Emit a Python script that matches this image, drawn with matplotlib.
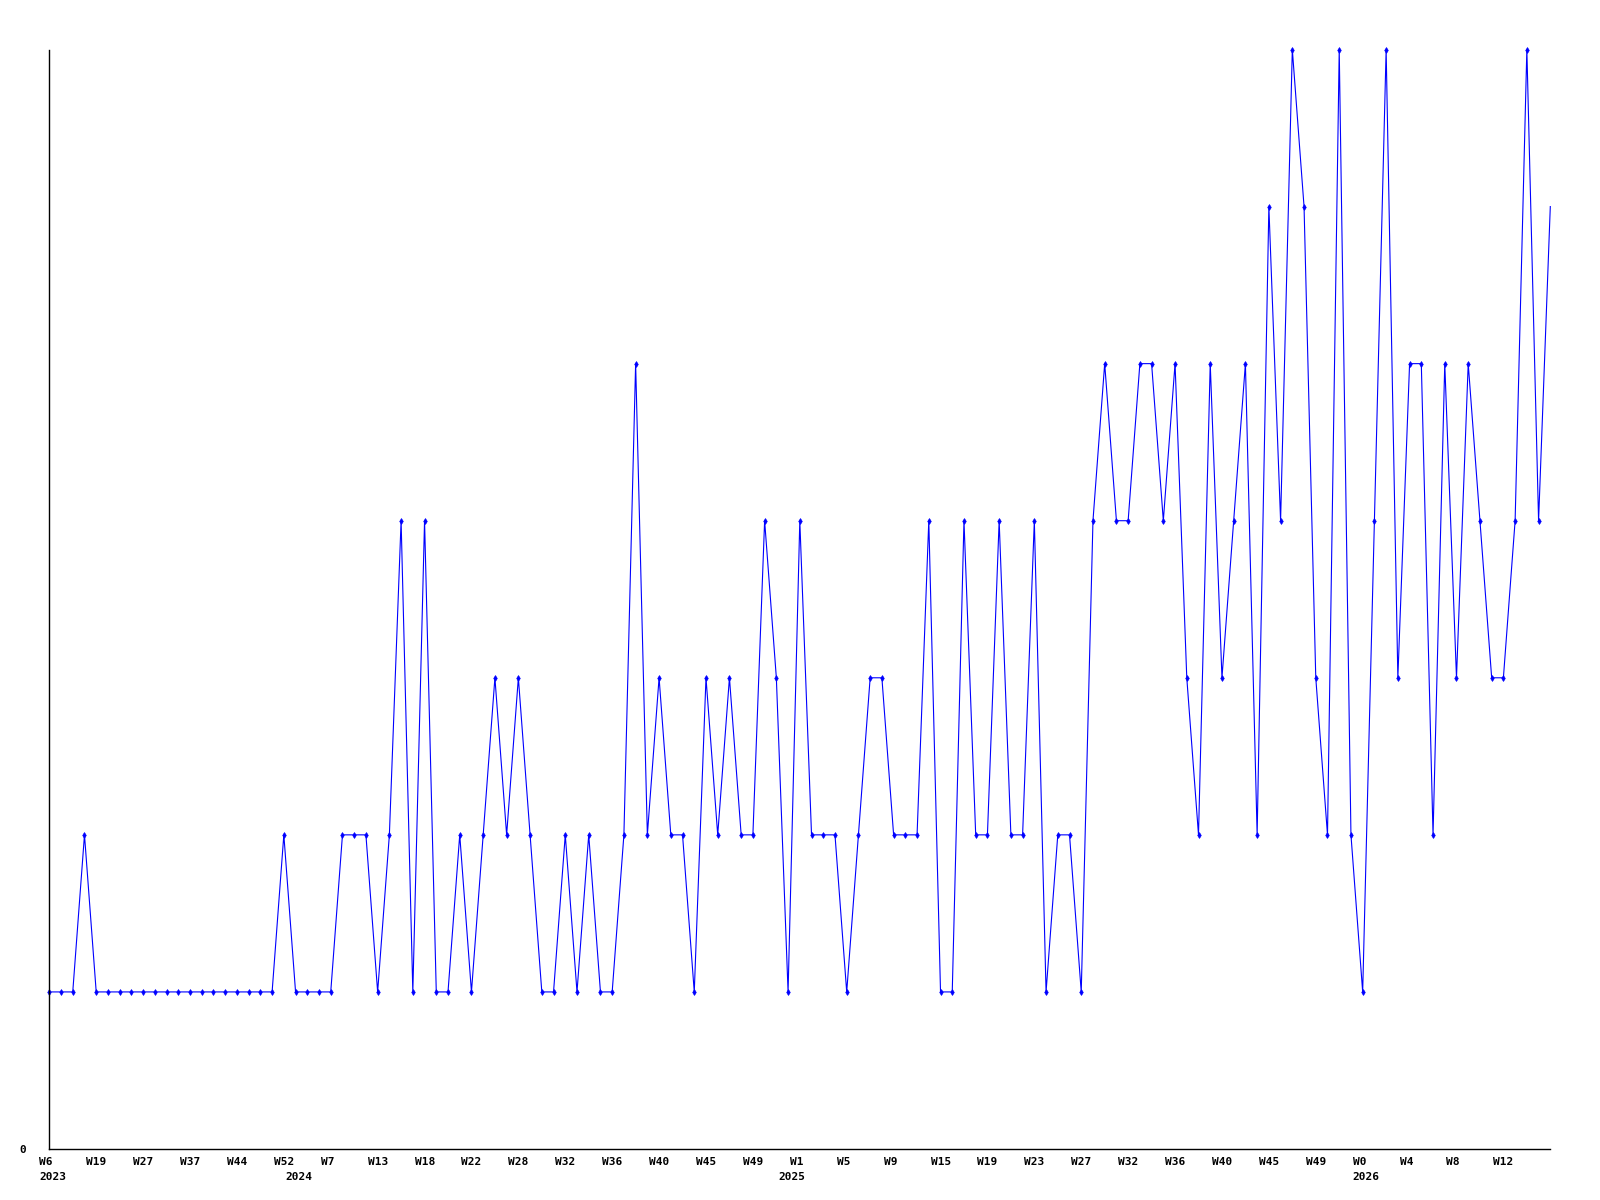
import matplotlib
matplotlib.use("Agg")
import matplotlib.pyplot as plt
from matplotlib.transforms import ScaledTranslation, blended_transform_factory

values = [1, 1, 1, 2, 1, 1, 1, 1, 1, 1,
          1, 1, 1, 1, 1, 1, 1, 1, 1, 1,
          2, 1, 1, 1, 1, 2, 2, 2, 1, 2,
          4, 1, 4, 1, 1, 2, 1, 2, 3, 2,
          3, 2, 1, 1, 2, 1, 2, 1, 1, 2,
          5, 2, 3, 2, 2, 1, 3, 2, 3, 2,
          2, 4, 3, 1, 4, 2, 2, 2, 1, 2,
          3, 3, 2, 2, 2, 4, 1, 1, 4, 2,
          2, 4, 2, 2, 4, 1, 2, 2, 1, 4,
          5, 4, 4, 5, 5, 4, 5, 3, 2, 5,
          3, 4, 5, 2, 6, 4, 7, 6, 3, 2,
          7, 2, 1, 4, 7, 3, 5, 5, 2, 5,
          3, 5, 4, 3, 3, 4, 7, 4, 6]

week_labels = ["W6", "W19", "W27", "W37", "W44", "W52", "W7", "W13",
               "W18", "W22", "W28", "W32", "W36", "W40", "W45", "W49",
               "W1", "W5", "W9", "W15", "W19", "W23", "W27", "W32",
               "W36", "W40", "W45", "W49", "W0", "W4", "W8", "W12"]
year_labels = ["2023", "2024", "2025", "2026"]
year_index = [0, 21, 63, 112]

label_step = 4

fig = plt.figure(figsize=(16, 12), dpi=100)
W, H = 1600, 1200
left, right, top, bottom = 49.3, 1550.3, 49.5, 1149.0
ax = fig.add_axes([left / W, 1 - bottom / H, (right - left) / W, (bottom - top) / H])

x = list(range(len(values)))
ax.plot(x, values, color="#0000ff", linewidth=0.8, marker="d", markersize=3.0,
        markeredgewidth=0.5, markevery=slice(0, len(values) - 1), clip_on=False)

ax.set_xlim(0, len(values) - 1)
ax.set_ylim(0, 7)

for s in ["top", "right"]:
    ax.spines[s].set_visible(False)
for s in ["left", "bottom"]:
    ax.spines[s].set_color("black")
    ax.spines[s].set_linewidth(1.0)

font = dict(family="DejaVu Sans Mono", weight="bold", size=8)

ax.set_xticks([i * label_step for i in range(len(week_labels))])
ax.set_xticklabels(week_labels, ha="left", **font)
ax.tick_params(axis="x", length=0, pad=5.5)
off = ScaledTranslation(-0.10, 0, fig.dpi_scale_trans)
for lab in ax.get_xticklabels():
    lab.set_transform(lab.get_transform() + off)

ax.set_yticks([0])
ax.set_yticklabels(["0"], **font)
ax.tick_params(axis="y", length=0, pad=17)

trans = blended_transform_factory(ax.transData, ax.transAxes) + off
for lab, idx in zip(year_labels, year_index):
    ax.text(idx, 0, lab, transform=trans + ScaledTranslation(0, -0.225, fig.dpi_scale_trans),
            ha="left", va="top", **font)

fig.savefig("out.png", dpi=100, facecolor="white")
